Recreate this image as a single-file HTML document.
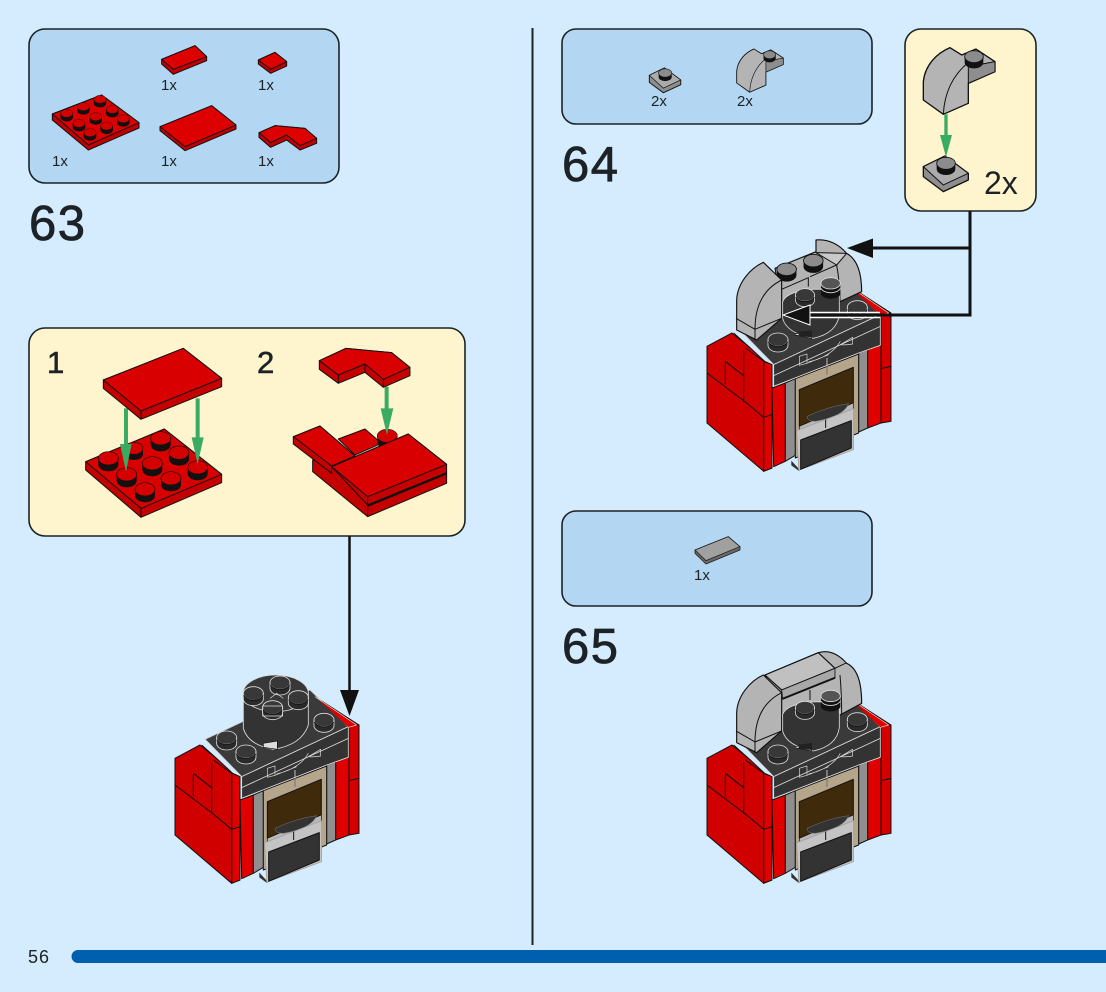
<!DOCTYPE html>
<html><head><meta charset="utf-8"><style>
html,body{margin:0;padding:0;background:#d4ecfd}
svg{display:block}
text{font-family:"Liberation Sans",sans-serif;fill:#1c2226}
.big{stroke:#1c2226;stroke-width:.8px;letter-spacing:1.5px}
</style></head><body>
<svg width="1106" height="992" viewBox="0 0 1106 992" xmlns="http://www.w3.org/2000/svg">
<defs>
<g id="rs"><path d="M-30,0v19a30,20 0 0 0 60,0v-19z" fill="#151010"/><ellipse rx="30" ry="20" fill="#d40000" stroke="#151010" stroke-width="2"/></g>
<g id="ds"><path d="M-30,0v17a30,20 0 0 0 60,0v-17z" fill="#2a2a2a" stroke="#ddd" stroke-width="2.5"/><ellipse rx="30" ry="20" fill="#383838" stroke="#ddd" stroke-width="2.5"/><path d="M-29,6a30,20 0 0 0 58,0" fill="none" stroke="#111" stroke-width="3"/></g>
<g id="gs"><path d="M-28,0v17a28,18 0 0 0 56,0v-17z" fill="#111"/><ellipse rx="28" ry="18" fill="#8c8c8c" stroke="#111" stroke-width="2.5"/></g>

<g id="body" stroke-linejoin="round">
 <path d="M465,80L597,165V300L500,300Z" fill="#d40000" stroke="#111" stroke-width="3"/>
 <path d="M45,265L120,225L175,270L218,310L240,320V630L215,640L45,495Z" fill="#d00000" stroke="#111" stroke-width="3"/>
 <path d="M215,310L240,320V630L215,640Z" fill="#e00000" stroke="#111" stroke-width="3"/>
 <path d="M45,345L160,432L215,478L240,470M100,310V380M100,310L157,355M155,280V432M160,270L218,312M215,310V640M125,225L175,270" fill="none" stroke="#111" stroke-width="3"/>
 <path d="M240,390L280,375V610L245,626Z" fill="#e00000" stroke="#111" stroke-width="3"/>
 <path d="M280,375L310,362V592L280,610Z" fill="#8f8f8f" stroke="#111" stroke-width="3"/>
 <path d="M527,275L567,255V495L527,510Z" fill="#e00000" stroke="#111" stroke-width="3"/>
 <path d="M567,165L597,165V490L567,495Z" fill="#d40000" stroke="#111" stroke-width="3"/>
 <path d="M567,332L597,325" stroke="#111" stroke-width="3"/>
 <path d="M500,285L527,275V510L500,522Z" fill="#8f8f8f" stroke="#111" stroke-width="3"/>
 <path d="M310,362L500,288V525L310,600Z" fill="#b5a58a" stroke="#111" stroke-width="3"/>
 <path d="M405,325V350" stroke="#555" stroke-width="2"/>
 <path d="M322,395L484,328V435L322,505Z" fill="#3f2a0b" stroke="#111" stroke-width="3"/>
 <path d="M322,505L484,435V480L322,520Z" fill="#b8b8b8" stroke="#111" stroke-width="2"/>
 <path d="M345,475Q410,445 470,437Q455,475 370,490Q345,490 345,475Z" fill="#333" stroke="#777" stroke-width="1.5"/>
 <path d="M298,608L322,634V640L298,622Z" fill="#333"/>
 <path d="M314,518L485,452V575L320,637Z" fill="#c4c4c4" stroke="#999" stroke-width="2"/>
 <path d="M401,485V510" stroke="#111" stroke-width="3"/>
 <path d="M326,546L478,488V570L326,634Z" fill="#333" stroke="#111" stroke-width="3"/>
 <path d="M135,208L450,60L565,170L245,320Z" fill="#3a3a3a" stroke="#ccc" stroke-width="2.5"/>
 <path d="M245,320L565,170V262L500,285L245,385Z" fill="#333" stroke="#ddd" stroke-width="2.5"/>
 <path d="M245,353L565,205M405,325V300" stroke="#ddd" stroke-width="2.5" fill="none"/>
 <path d="M322,295L345,288V316L322,322ZM345,316L410,290M445,260L482,238V258Q460,262 445,260ZM350,312Q420,295 445,250" fill="none" stroke="#ddd" stroke-width="2"/>
 <path d="M465,80L590,165L566,172" fill="#e00000" stroke="#ddd" stroke-width="2"/>
 <path d="M135,208L245,320" stroke="#ddd" stroke-width="2.5"/>
</g>

<g id="smallarch" stroke-linejoin="round">
 <path d="M150,68L185,90L228,72L285,110V140L205,175V235L130,268L70,225V170C75,120 110,85 150,68Z" fill="#b4b4b4" stroke="#111" stroke-width="4"/>
 <path d="M205,125L285,110V140L205,175Z" fill="#8e8e8e" stroke="#111" stroke-width="3"/>
 <path d="M205,112Q135,170 130,268" fill="none" stroke="#111" stroke-width="3"/>
 <use href="#gs" transform="translate(222,95)"/>
</g>
<g id="smallplate" stroke-linejoin="round">
 <path d="M70,425L135,393L205,445V465L130,500L70,455Z" fill="#8e8e8e" stroke="#111" stroke-width="4"/>
 <path d="M70,425L135,393L205,445L130,480Z" fill="#ababab" stroke="#111" stroke-width="3"/>
 <use href="#gs" transform="translate(138,415)"/>
</g>

<g id="cyl" stroke-linejoin="round">
 <path d="M248,215V265Q260,310 340,325Q410,310 418,255V190Q390,175 335,178Q260,185 248,215Z" fill="#333" stroke="#ddd" stroke-width="2.5"/>
 <path d="M285,312L335,302V325L285,315Z" fill="#ddd" stroke="#111" stroke-width="2"/>
 <path d="M296,305L336,302V322L296,318Z" fill="#222"/>
 <use href="#ds" transform="translate(315,195) scale(.95)"/>
 <path d="M363,160v33a30,18 0 0 0 58,0v-33z" fill="#111"/>
 <ellipse cx="392" cy="160" rx="29" ry="17" fill="#555" stroke="#ddd" stroke-width="2.5"/>
 <path d="M363,175a30,18 0 0 0 58,0" fill="none" stroke="#ddd" stroke-width="2.5"/>
</g>
<g id="archL" stroke-linejoin="round">
 <path d="M110,300V210C112,160 150,115 190,97L245,150V265L170,330Z" fill="#b4b4b4" stroke="#111" stroke-width="3.5"/>
 <path d="M245,150Q165,190 165,298M108,265L165,298L245,265M165,298V330" fill="none" stroke="#111" stroke-width="3"/>
</g>
</defs>

<rect width="1106" height="992" fill="#d4ecfd"/>

<!-- panels -->
<rect x="29" y="29" width="310" height="154" rx="16" fill="#b3d7f2" stroke="#1c2226" stroke-width="1.6"/>
<rect x="562" y="29" width="310" height="95" rx="14" fill="#b3d7f2" stroke="#1c2226" stroke-width="1.6"/>
<rect x="562" y="511" width="310" height="95" rx="14" fill="#b3d7f2" stroke="#1c2226" stroke-width="1.6"/>
<rect x="29" y="328" width="436" height="208" rx="16" fill="#fef4cd" stroke="#1c2226" stroke-width="1.6"/>
<rect x="905" y="29" width="131" height="182" rx="16" fill="#fef4cd" stroke="#1c2226" stroke-width="1.6"/>

<!-- divider & bar -->
<path d="M532.5,28V945" stroke="#1c2226" stroke-width="2"/>
<path d="M1106,950H78a6.5,6.5 0 0 0 0,13H1106Z" fill="#0060b0"/>
<text x="28" y="963" font-size="18" letter-spacing="1">56</text>

<!-- numbers -->
<text class="big" x="29" y="240" font-size="49">63</text>
<text class="big" x="562" y="181" font-size="49">64</text>
<text class="big" x="562" y="663" font-size="49">65</text>
<text x="47" y="373" font-size="31" stroke="#1c2226" stroke-width=".6">1</text>
<text x="257" y="373" font-size="31" stroke="#1c2226" stroke-width=".6">2</text>
<text x="984" y="194" font-size="32">2x</text>
<text x="161" y="90" font-size="15">1x</text>
<text x="258" y="90" font-size="15">1x</text>
<text x="52" y="166" font-size="15">1x</text>
<text x="161" y="166" font-size="15">1x</text>
<text x="258" y="166" font-size="15">1x</text>
<text x="651" y="106" font-size="15">2x</text>
<text x="737" y="106" font-size="15">2x</text>
<text x="694" y="580" font-size="15">1x</text>

<!-- parts list 63 -->
<g transform="translate(30,30) scale(.3333)" stroke="#111" stroke-width="3" stroke-linejoin="round">
 <path d="M395,88L495,47L530,80V92L430,133L395,102Z" fill="#c00000"/><path d="M395,88L495,47L530,80L430,118Z" fill="#dc0000"/>
 <path d="M685,90L735,67L770,95V108L722,130L685,102Z" fill="#c00000"/><path d="M685,90L735,67L770,95L722,118Z" fill="#dc0000"/>
 <path d="M67,252L215,195L327,278V294L175,360L67,270Z" fill="#c00000"/><path d="M67,252L215,195L327,278L175,345Z" fill="#dc0000"/>
 <g fill="#dc0000">
 <use href="#rs" transform="translate(210,208) scale(.6)"/><use href="#rs" transform="translate(160,230) scale(.6)"/><use href="#rs" transform="translate(110,250) scale(.6)"/>
 <use href="#rs" transform="translate(247,238) scale(.6)"/><use href="#rs" transform="translate(197,260) scale(.6)"/><use href="#rs" transform="translate(147,280) scale(.6)"/>
 <use href="#rs" transform="translate(280,266) scale(.6)"/><use href="#rs" transform="translate(230,288) scale(.6)"/><use href="#rs" transform="translate(180,308) scale(.6)"/>
 </g>
 <path d="M390,290L545,227L618,285V297L465,362L390,302Z" fill="#c00000"/><path d="M390,290L545,227L618,285L465,350Z" fill="#dc0000"/>
 <path d="M687,308V322L722,352L770,330L810,360L860,340V325L825,295L735,287Z" fill="#c00000"/>
 <path d="M687,308L735,287L825,295L860,325L810,347L770,315L722,338Z" fill="#dc0000"/>
</g>

<!-- assembly 1/2 -->
<g transform="translate(30,330) scale(.3333)" stroke-linejoin="round">
 <g stroke="#111" stroke-width="3">
 <path d="M167,395L403,297L575,433V458L333,562L167,420Z" fill="#c40000"/>
 <path d="M167,395L403,297L575,433L333,535Z" fill="#d80000"/>
 <path d="M333,535V562" fill="none"/>
 </g>
 <use href="#rs" transform="translate(235,385)"/><use href="#rs" transform="translate(312,355) scale(.9)"/><use href="#rs" transform="translate(392,325)"/>
 <use href="#rs" transform="translate(290,433)"/><use href="#rs" transform="translate(367,400)"/><use href="#rs" transform="translate(447,368)"/>
 <use href="#rs" transform="translate(345,478)"/><use href="#rs" transform="translate(423,445)"/><use href="#rs" transform="translate(503,412)"/>
 <path d="M288,235V350M503,205V330" stroke="#3aab63" stroke-width="12" fill="none"/>
 <path d="M270,342L305,342L288,425ZM485,322L521,322L503,402Z" fill="#3aab63"/>
 <g stroke="#111" stroke-width="3">
 <path d="M220,150L460,55L575,145V170L333,268L220,175Z" fill="#c40000"/>
 <path d="M220,150L460,55L575,145L333,243Z" fill="#d80000"/>
 <path d="M333,243V268" fill="none"/>
 <path d="M848,390V425L1013,560L1250,460V430Z" fill="#c40000"/>
 <path d="M1013,525V560" fill="none"/>
 <path d="M790,320L870,288L975,378L905,408V430L790,342Z" fill="#c40000"/>
 <path d="M790,320L870,288L975,378L905,408Z" fill="#d80000"/>
 <path d="M925,327L1005,297L1055,340L975,375Z" fill="#d80000"/>
 </g>
 <use href="#rs" transform="translate(1072,318)"/>
 <g stroke="#111" stroke-width="3">
 <path d="M905,410L1135,312L1250,403V430L1013,525Z" fill="#c40000"/>
 <path d="M905,410L1135,312L1250,403L1013,500Z" fill="#d80000"/>
 <path d="M1013,500V525" fill="none"/>
 <path d="M1013,527L1250,430" stroke-width="7" fill="none"/>
 </g>
 <path d="M1070,170V245" stroke="#3aab63" stroke-width="12"/>
 <path d="M1052,235L1090,235L1071,315Z" fill="#3aab63"/>
 <g stroke="#111" stroke-width="3">
 <path d="M868,92V118L925,160L1005,127L1060,172L1140,137V112L1085,68L948,55Z" fill="#c40000"/>
 <path d="M868,92L948,55L1085,68L1140,112L1060,148L1005,102L925,135Z" fill="#d80000"/>
 <path d="M925,135V160M1060,148V172M1005,102V127" fill="none"/>
 </g>
</g>

<!-- step 63 model -->
<g transform="translate(160,670) scale(.3333)">
 <use href="#body"/>
 <use href="#ds" transform="translate(200,203)"/>
 <use href="#ds" transform="translate(258,245)"/>
 <use href="#ds" transform="translate(492,150)"/>
 <path d="M250,70V175Q265,225 340,238Q425,225 445,165V70Z" fill="#333" stroke="#ddd" stroke-width="2.5"/>
 <ellipse cx="347" cy="70" rx="98" ry="55" fill="#383838" stroke="#ddd" stroke-width="2.5"/>
 <path d="M310,220L352,213V238L310,232Z" fill="#ddd" stroke="#111" stroke-width="2"/>
 <use href="#ds" transform="translate(360,38)"/>
 <use href="#ds" transform="translate(280,70)"/>
 <use href="#ds" transform="translate(415,82)"/>
 <use href="#ds" transform="translate(338,112)"/>
 <path d="M308,108L368,108V138L308,138Z" fill="none" stroke="#ddd" stroke-width="2"/>
 <path d="M330,85L350,70L370,85" fill="none" stroke="#ddd" stroke-width="2"/>
</g>
<path d="M349.5,536V695" stroke="#111" stroke-width="2.5"/>
<path d="M340,690H359L349.5,716Z" fill="#111"/>

<!-- step 64 parts -->
<use href="#smallplate" transform="translate(633,-23.7) scale(.233)"/>
<use href="#smallarch" transform="translate(721.5,34.2) scale(.2167)"/>
<use href="#smallarch" transform="translate(900,25) scale(.3333)"/>
<use href="#smallplate" transform="translate(900,25) scale(.3333)"/>
<g transform="translate(900,25) scale(.3333)">
 <path d="M138,268V340" stroke="#3aab63" stroke-width="10"/>
 <path d="M120,330L156,330L138,396Z" fill="#3aab63"/>
</g>

<!-- step 64 model -->
<g transform="translate(532,-412) translate(160,670) scale(.3333)"><use href="#body"/></g>
<g transform="translate(700,230) scale(.3333)" stroke-linejoin="round">
 <path d="M225,115L348,65V30Q400,25 440,70Q485,95 485,185L420,215L330,200L245,225Z" fill="#b4b4b4" stroke="#111" stroke-width="3.5"/>
 <path d="M348,68L410,105L440,70Z" fill="#cacaca" stroke="#111" stroke-width="3"/>
 <path d="M245,178L325,143V170M330,140L410,105Q420,160 420,215" fill="none" stroke="#111" stroke-width="3"/>
 <use href="#gs" transform="translate(260,118) scale(1.05)"/>
 <use href="#gs" transform="translate(340,92) scale(1.05)"/>
 <use href="#archL"/>
 <use href="#cyl"/>
 <use href="#ds" transform="translate(234,329)"/>
 <use href="#ds" transform="translate(472,232)"/>
</g>
<path d="M970,211V315H810" fill="none" stroke="#111" stroke-width="3"/>
<path d="M970,248H873" fill="none" stroke="#111" stroke-width="3"/>
<path d="M873,238.500V258L847,248Z" fill="#111"/>
<path d="M810,312.500H880M810,317.500H880" stroke="#fff" stroke-width="1.500"/>
<path d="M810,305V325L783,315Z" fill="#111" stroke="#fff" stroke-width="1"/>

<!-- step 65 tile -->
<g transform="translate(680,530) scale(.3333)" stroke="#222" stroke-width="2.500" stroke-linejoin="round">
 <path d="M45,60L145,20L180,50V60L78,102L45,70Z" fill="#6a6a6a"/>
 <path d="M45,60L145,20L180,50L78,92Z" fill="#a0a0a0"/>
</g>

<!-- step 65 model -->
<g transform="translate(532,0) translate(160,670) scale(.3333)"><use href="#body"/></g>
<g transform="translate(700,640) scale(.3333)" stroke-linejoin="round">
 <path d="M195,105L355,38Q400,25 440,70Q485,90 485,190L420,225L330,210L245,235Z" fill="#b4b4b4" stroke="#111" stroke-width="3.500"/>
 <path d="M195,105L355,38L405,85L245,150Z" fill="#c0c0c0" stroke="#111" stroke-width="3.500"/>
 <path d="M245,150L405,85V115L248,178Z" fill="#a8a8a8" stroke="#111" stroke-width="2.500"/>
 <path d="M248,176L405,113" stroke="#111" stroke-width="5"/>
 <path d="M405,85L440,68M330,150V180M420,105Q425,160 425,222" fill="none" stroke="#111" stroke-width="3"/>
 <use href="#archL" transform="translate(0,8)"/>
 <use href="#cyl" transform="translate(0,8)"/>
 <use href="#ds" transform="translate(234,335)"/>
 <use href="#ds" transform="translate(472,238)"/>
</g>
</svg>
</body></html>
